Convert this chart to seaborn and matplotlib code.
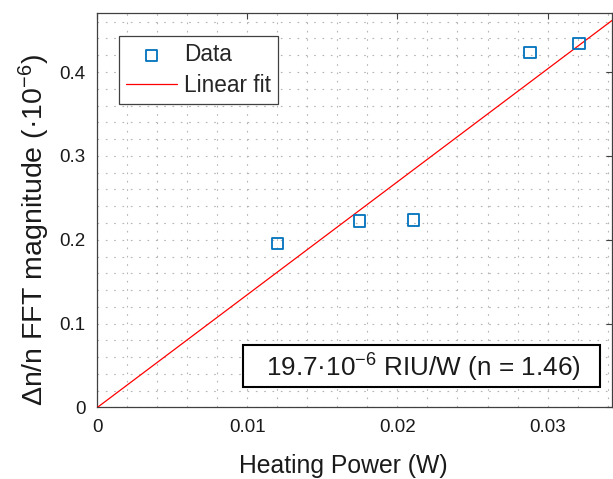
import numpy as np
import pandas as pd
import matplotlib
matplotlib.use("Agg")
import matplotlib.pyplot as plt
import seaborn as sns
from matplotlib.patches import Rectangle
from matplotlib.ticker import MultipleLocator, FixedLocator, FuncFormatter

# ---- data ----
power_w = [0.0120, 0.01747, 0.02107, 0.02885, 0.03209]
dn_fft = [0.1957, 0.2226, 0.2235, 0.4231, 0.4338]   # x 1e-6
x_ticks = [0, 0.01, 0.02, 0.03]
y_ticks = [0, 0.1, 0.2, 0.3, 0.4]
x_limits = [0, 0.0343]
y_limits = [0, 0.47]
refr_index = 1.46

sns.set_theme(style="white")
plt.rcParams['font.family'] = ['Liberation Sans', 'DejaVu Sans']
plt.rcParams['mathtext.fontset'] = 'custom'
plt.rcParams['mathtext.rm'] = 'Liberation Sans'
plt.rcParams['mathtext.it'] = 'Liberation Sans'

# least squares fit through origin
px = np.array(power_w)
py = np.array(dn_fft)
slope = float(np.sum(px * py) / np.sum(px * px))
fit_df = pd.DataFrame({"x": x_limits, "y": [slope * v for v in x_limits]})
data_df = pd.DataFrame({"x": power_w, "y": dn_fft})

fig = plt.figure(figsize=(6.13, 4.79), dpi=100)
ax = fig.add_axes([0.1587, 0.1493, 0.8398, 0.8229])

blue = '#0072BD'
sns.scatterplot(data=data_df, x="x", y="y", ax=ax, marker='s', s=70,
                facecolor='none', edgecolor=blue, linewidth=1.3,
                label='Data', zorder=4)
sns.lineplot(data=fit_df, x="x", y="y", ax=ax, color='#FF0000', linewidth=0.9,
             label='Linear fit', zorder=3)

ax.set_xlim(*x_limits)
ax.set_ylim(*y_limits)
ax.xaxis.set_major_locator(FixedLocator(x_ticks))
ax.yaxis.set_major_locator(FixedLocator(y_ticks))
ax.xaxis.set_minor_locator(MultipleLocator(0.002))
ax.yaxis.set_minor_locator(MultipleLocator(0.02))
fmt = FuncFormatter(lambda v, p: '%g' % v)
ax.xaxis.set_major_formatter(fmt)
ax.yaxis.set_major_formatter(fmt)

ax.grid(True, which='both', linestyle=(0, (1.5, 6)), color='#b5b5b5', linewidth=0.8)
ax.set_axisbelow(True)
ax.tick_params(which='major', direction='in', length=4, width=0.8,
               color='#404040', top=True, right=True, labelsize=13.5,
               labelcolor='#1a1a1a', pad=8.5)
ax.tick_params(which='minor', length=0)
for s in ax.spines.values():
    s.set_visible(True)
    s.set_color('#404040')
    s.set_linewidth(0.9)

ax.set_xlabel('Heating Power (W)', fontsize=17.8, color='#1a1a1a')
ax.xaxis.label.set_verticalalignment('baseline')
ax.xaxis.set_label_coords(0.478, -0.165)
ax.set_ylabel(r'Δn/n FFT magnitude (·10$^{-6}$)', fontsize=20.5, color='#1a1a1a')
ax.yaxis.set_label_coords(-0.088, 0.450)

leg = ax.legend(loc='upper left', bbox_to_anchor=(0.042, 0.942), borderaxespad=0,
                fontsize=16.3, frameon=True, fancybox=False, edgecolor='#404040',
                handlelength=2.25, handletextpad=0.32, labelspacing=0.34,
                borderpad=0.32, framealpha=1)
leg.get_frame().set_linewidth(0.9)

ax.add_patch(Rectangle((0.2837, 0.0528), 0.9767 - 0.2837, 0.1585 - 0.0528,
                       transform=ax.transAxes, facecolor='white',
                       edgecolor='black', linewidth=1.5, zorder=5))
ax.text(0.6335, 0.0781, r'19.7·10$^{-6}$ RIU/W (n = %.2f)' % refr_index,
        transform=ax.transAxes, ha='center', va='baseline', fontsize=18.8,
        color='#1a1a1a', zorder=6)

fig.savefig('out.png', dpi=100)
